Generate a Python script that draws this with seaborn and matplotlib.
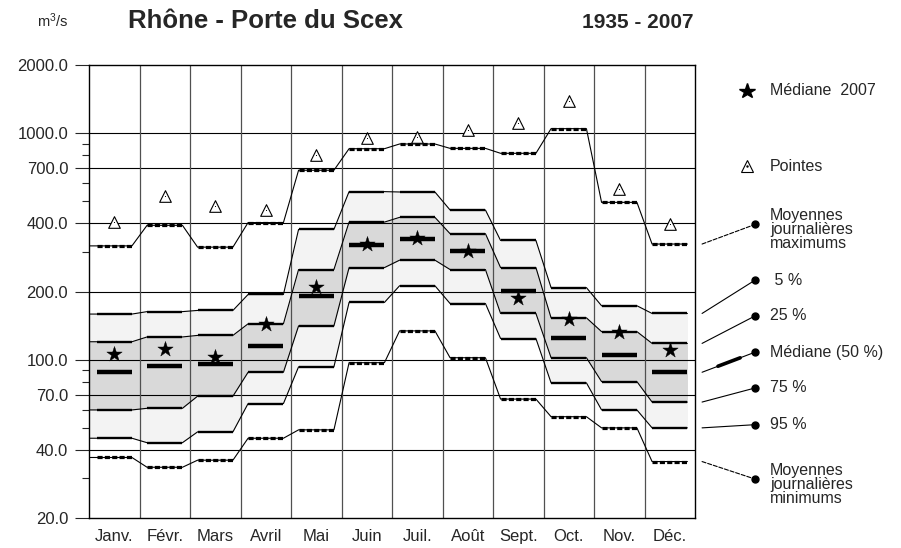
import matplotlib
matplotlib.use("Agg")
import matplotlib.pyplot as plt
import numpy as np
import seaborn as sns
from matplotlib.lines import Line2D
from matplotlib.patches import ConnectionPatch
from matplotlib.ticker import FixedLocator, FormatStrFormatter, NullFormatter

# monthly discharge statistics, m3/s
months = ["Janv.", "Févr.", "Mars", "Avril", "Mai", "Juin",
          "Juil.", "Août", "Sept.", "Oct.", "Nov.", "Déc."]
peaks = [406, 526, 478, 456, 803, 955, 960, 1028, 1106, 1390, 566, 396]
max_daily = [318, 392, 314, 403, 686, 854, 896, 857, 815, 1047, 495, 324]
q05 = [159, 163, 165, 194, 376, 552, 550, 458, 336, 208, 173, 160]
q25 = [120, 126, 128, 144, 250, 405, 425, 360, 255, 153, 133, 118]
median = [88, 94, 96, 115, 191, 322, 341, 302, 202, 125, 105, 88]
median_2007 = [106, 111, 103, 144, 210, 323, 343, 303, 188, 151, 132, 110]
q75 = [60, 61, 69, 88, 141, 255, 275, 250, 160, 102, 80, 65]
q95 = [45, 43, 48, 64, 93, 179, 212, 177, 124, 79, 60, 50]
min_daily = [37, 33.5, 36, 45, 49, 97, 134, 102, 67, 56, 50, 35.5]

major_ticks = [20, 40, 70, 100, 200, 400, 700, 1000, 2000]
minor_ticks = [30, 50, 60, 80, 90, 300, 500, 600, 800, 900]

INSET = 0.15


def step_path(values):
    xs, ys = [0.0], [values[0]]
    for i, v in enumerate(values):
        xs += [i + INSET, i + 1 - INSET]
        ys += [v, v]
    return np.array(xs), np.array(ys)


sns.set_style("ticks")
plt.rcParams["font.family"] = ["Liberation Sans", "DejaVu Sans"]
plt.rcParams["mathtext.default"] = "regular"

fig = plt.figure(figsize=(9.01, 5.48), dpi=100)
ax = fig.add_axes([89 / 901, 30 / 548, 606 / 901, 453 / 548])
ax.set_yscale("log")
ax.set_xlim(0, 12)
ax.set_ylim(20, 2000)

idx = np.arange(12)

# bands
xs, lo = step_path(q95)
_, hi = step_path(q05)
ax.fill_between(xs, lo, hi, color="#f3f3f3", lw=0, zorder=0.5)
_, lo = step_path(q75)
_, hi = step_path(q25)
ax.fill_between(xs, lo, hi, color="#d9d9d9", lw=0, zorder=0.6)

# grid
for v in major_ticks[1:-1]:
    ax.axhline(v, color="black", lw=0.8, zorder=1)
for k in range(1, 12):
    ax.axvline(k, color="#505050", lw=0.9, zorder=1)

# percentile lines: thin connectors + thicker plateaus
for series in [q05, q25, q75, q95]:
    sx, sy = step_path(series)
    sns.lineplot(x=sx, y=sy, ax=ax, color="black", linewidth=0.8,
                 sort=False, estimator=None, zorder=3)
    ax.hlines(series, idx + INSET, idx + 1 - INSET, colors="black", lw=1.7, zorder=3)

# mean daily max / min: thin line with dashed plateaus
for series in [max_daily, min_daily]:
    sx, sy = step_path(series)
    sns.lineplot(x=sx, y=sy, ax=ax, color="black", linewidth=0.8,
                 sort=False, estimator=None, zorder=3)
    ax.hlines(series, idx + INSET, idx + 1 - INSET, colors="black", lw=2.3,
              linestyles=[(0, (1.6, 0.7))], zorder=3)

# median
ax.hlines(median, idx + INSET, idx + 1 - INSET, colors="black", lw=3.2, zorder=4)

# 2007 median
sns.scatterplot(x=idx + 0.5, y=median_2007, ax=ax, marker="*", s=135,
                color="black", edgecolor="black", linewidth=0.3, zorder=5)

# peaks
sns.scatterplot(x=idx + 0.5, y=peaks, ax=ax, marker="^", s=70,
                facecolor="white", edgecolor="black", linewidth=0.8, zorder=5)
sns.scatterplot(x=idx + 0.5, y=peaks, ax=ax, marker=".", s=2,
                color="black", edgecolor="black", linewidth=0, zorder=6)

# axes styling
for sp in ax.spines.values():
    sp.set_visible(True)
    sp.set_color("black")
    sp.set_linewidth(1.0)
ax.yaxis.set_major_locator(FixedLocator(major_ticks))
ax.yaxis.set_minor_locator(FixedLocator(minor_ticks))
ax.yaxis.set_major_formatter(FormatStrFormatter("%.1f"))
ax.yaxis.set_minor_formatter(NullFormatter())
ax.tick_params(axis="y", which="major", length=10, width=0.8, pad=5, labelsize=12)
ax.tick_params(axis="y", which="minor", length=5, width=0.8)
ax.set_xticks(idx + 0.5)
ax.set_xticklabels(months)
ax.tick_params(axis="x", length=0, pad=8, labelsize=12)
ax.set_xlabel("")
ax.set_ylabel("")

# titles
fig.text(37 / 901, 1 - 27 / 548, "m$^3$/s", fontsize=10.5, va="baseline", ha="left")
fig.text(128 / 901, 1 - 28 / 548, "Rhône - Porte du Scex", fontsize=18.5,
         fontweight="bold", va="baseline", ha="left")
fig.text(582 / 901, 1 - 28 / 548, "1935 - 2007", fontsize=15,
         fontweight="bold", va="baseline", ha="left")

# right-hand key
dot_x = 1.099
text_x = 1.124
ax.plot(1.085, 0.943, marker="*", ms=11.5, color="black", transform=ax.transAxes, clip_on=False)
ax.text(text_x, 0.943, "Médiane  2007", transform=ax.transAxes, fontsize=11.5, va="center")
ax.plot(1.085, 0.776, marker="^", ms=8, mfc="white", mec="black", mew=0.8,
        transform=ax.transAxes, clip_on=False)
ax.plot(1.085, 0.776, marker=".", ms=1.5, color="black", transform=ax.transAxes, clip_on=False)
ax.text(text_x, 0.776, "Pointes", transform=ax.transAxes, fontsize=11.5, va="center")

keys = [
    (max_daily, 0.648, "--", "Moyennes\njournalières\nmaximums", 0.636),
    (q05, 0.525, "-", " 5 %", 0.525),
    (q25, 0.446, "-", "25 %", 0.446),
    (median, 0.366, "-", "Médiane (50 %)", 0.366),
    (q75, 0.287, "-", "75 %", 0.287),
    (q95, 0.206, "-", "95 %", 0.206),
    (min_daily, 0.086, "--", "Moyennes\njournalières\nminimums", 0.073),
]
start_x = 12.14
for series, yf, ls, label, ty in keys:
    con = ConnectionPatch(xyA=(start_x, series[-1]), coordsA=ax.transData,
                          xyB=(dot_x, yf), coordsB=ax.transAxes,
                          color="black", lw=0.8, linestyle=ls, clip_on=False)
    ax.add_artist(con)
    ax.plot(dot_x, yf, "o", ms=5, color="black", transform=ax.transAxes, clip_on=False)
    ax.text(text_x, ty, label, transform=ax.transAxes, fontsize=11.5, va="center",
            linespacing=0.92)

# thick piece on the median leader
pa = ax.transData.transform((start_x, median[-1]))
pb = ax.transAxes.transform((dot_x, 0.366))
p1 = fig.transFigure.inverted().transform(pa + 0.3 * (pb - pa))
p2 = fig.transFigure.inverted().transform(pa + 0.72 * (pb - pa))
fig.add_artist(Line2D([p1[0], p2[0]], [p1[1], p2[1]], color="black", lw=2.6,
                      transform=fig.transFigure))

fig.savefig("out.png", dpi=100)
plt.close(fig)
